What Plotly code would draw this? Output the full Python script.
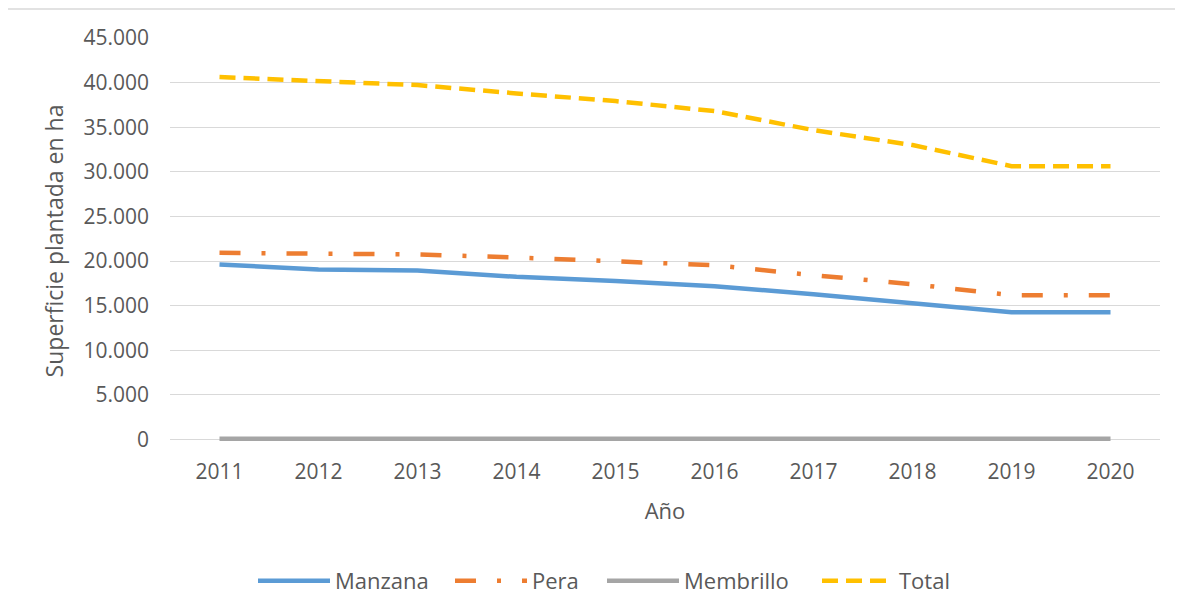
import plotly.graph_objects as go

years = ["2011", "2012", "2013", "2014", "2015", "2016", "2017", "2018", "2019", "2020"]
manzana = [19620, 19060, 18950, 18230, 17780, 17190, 16290, 15320, 14270, 14270]
pera = [20920, 20890, 20740, 20400, 20020, 19540, 18420, 17410, 16180, 16180]
membrillo = [90, 90, 88, 88, 86, 86, 85, 85, 84, 84]
total = [40620, 40200, 39720, 38790, 37930, 36810, 34680, 33000, 30640, 30640]

y_ticks = [0, 5000, 10000, 15000, 20000, 25000, 30000, 35000, 40000, 45000]

FONT = "Open Sans"
TXT = "#595959"

# page offset (browser body margin) = 8px
PL, PT, PW, PH = 170, 38, 990, 406  # plot area in page pixels


def px_x(x):
    return (x - PL) / PW


def px_y(y):
    return 1 - (y - PT) / PH


fig = go.Figure()
fig.add_trace(go.Scatter(x=years, y=manzana, name="Manzana", mode="lines", legend="legend",
                         line=dict(color="#5B9BD5", width=4.5)))
fig.add_trace(go.Scatter(x=years, y=pera, name="Pera", mode="lines", legend="legend2",
                         line=dict(color="#ED7D31", width=4.5, dash="21px,21px,4px,21px")))
fig.add_trace(go.Scatter(x=years, y=membrillo, name="Membrillo", mode="lines", legend="legend3",
                         line=dict(color="#A5A5A5", width=4.5, simplify=False)))
fig.add_trace(go.Scatter(x=years, y=total, name="Total", mode="lines", legend="legend4",
                         line=dict(color="#FFC000", width=4.5, dash="16px,8px")))


def leg(xpage):
    return dict(orientation="h", x=px_x(xpage), xanchor="left", y=px_y(581), yanchor="middle",
                font=dict(family=FONT, size=22, color=TXT), itemwidth=72,
                bgcolor="rgba(0,0,0,0)")


fig.update_layout(
    width=1183, height=614,
    margin=dict(l=PL - 8, r=1183 + 8 - PL - PW, t=PT - 8, b=614 + 8 - PT - PH),
    paper_bgcolor="white", plot_bgcolor="white",
    separators=",.",
    font=dict(family=FONT, size=21, color=TXT),
    showlegend=True,
    hovermode=False,
    legend=leg(253), legend2=leg(450), legend3=leg(602), legend4=leg(817),
    xaxis=dict(type="category", range=[-0.5, 9.5], showgrid=False, showline=False,
               zeroline=False, ticks="", tickfont=dict(size=21, color=TXT),
               ticklabelstandoff=13,
               title=dict(text="Año", font=dict(size=22, color=TXT), standoff=19)),
    yaxis=dict(range=[-500, 45000], tickvals=y_ticks, tickformat=",.0f",
               showgrid=True, gridcolor="#D9D9D9", gridwidth=1.3,
               zeroline=False, layer="below traces",
               showline=False, ticks="", tickfont=dict(size=21, color=TXT),
               ticklabelstandoff=20,
               title=dict(text="Superficie plantada en ha", font=dict(size=23, color=TXT),
                          standoff=13)),
    shapes=[dict(type="rect", xref="paper", yref="paper",
                 x0=px_x(7), x1=px_x(1210),
                 y0=px_y(640), y1=px_y(9),
                 line=dict(color="#D9D9D9", width=1.5), fillcolor="rgba(0,0,0,0)",
                 layer="below")],
)

fig.write_html("out.html")
